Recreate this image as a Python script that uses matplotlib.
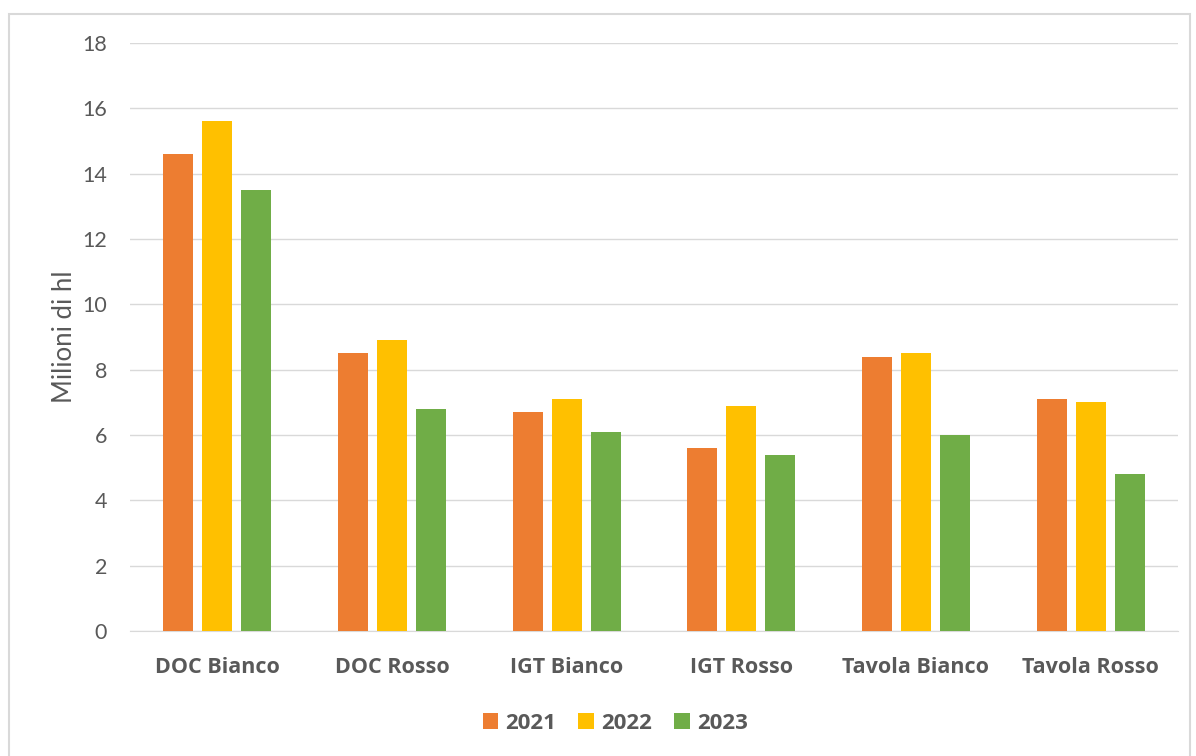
import numpy as np
import matplotlib.pyplot as plt
from matplotlib.patches import Rectangle

categories = ['DOC Bianco', 'DOC Rosso', 'IGT Bianco', 'IGT Rosso', 'Tavola Bianco', 'Tavola Rosso']
years = ['2021', '2022', '2023']
v2021 = [14.6, 8.5, 6.7, 5.6, 8.4, 7.1]
v2022 = [15.6, 8.9, 7.1, 6.9, 8.5, 7.0]
v2023 = [13.5, 6.8, 6.1, 5.4, 6.0, 4.8]
colors = ['#ED7D31', '#FFC000', '#70AD47']

plt.rcParams['font.family'] = ['Lato', 'DejaVu Sans']
bold_font = ['Open Sans', 'DejaVu Sans']

fig = plt.figure(figsize=(11.96, 7.56), dpi=100)
ax = fig.add_axes([130/1196, 125/756, 1048/1196, 588/756])

x = np.arange(len(categories))
w = 0.172
step = 0.223
for i, (vals, yr) in enumerate(zip([v2021, v2022, v2023], years)):
    ax.bar(x + (i - 1) * step, vals, w, color=colors[i], label=yr, zorder=3)

ax.set_xlim(-0.5, len(categories) - 0.5)
ax.set_ylim(0, 18)
ax.set_yticks(np.arange(0, 19, 2))
ax.grid(axis='y', color='#d9d9d9', linewidth=1, zorder=0)
for s in ['top', 'right', 'left']:
    ax.spines[s].set_visible(False)
ax.spines['bottom'].set_color('#d9d9d9')
ax.tick_params(axis='both', length=0, colors='#595959')
ax.tick_params(axis='y', labelsize=15.5, pad=16.5)
ax.set_xticks(x)
ax.set_xticklabels(categories, fontsize=15.5, fontweight='bold', color='#595959',
                   family=bold_font)
ax.tick_params(axis='x', pad=18.5)
ax.set_ylabel('Milioni di hl', fontsize=18.5, color='#595959')
ax.yaxis.set_label_coords(-0.0505, 0.5)

leg = ax.legend(loc='center', bbox_to_anchor=(0.463, -0.157), ncol=3, frameon=False,
                handlelength=0.7, handleheight=0.7, handletextpad=0.32, columnspacing=1.0,
                prop={'weight': 'bold', 'size': 16, 'family': bold_font})
for t in leg.get_texts():
    t.set_color('#595959')

fig.patches.append(Rectangle((9/1196, -0.01), 1181/1196, 1 - 14/756 + 0.01,
                             transform=fig.transFigure, fill=False,
                             edgecolor='#d9d9d9', linewidth=1.5))

fig.savefig('out.png', dpi=100)
